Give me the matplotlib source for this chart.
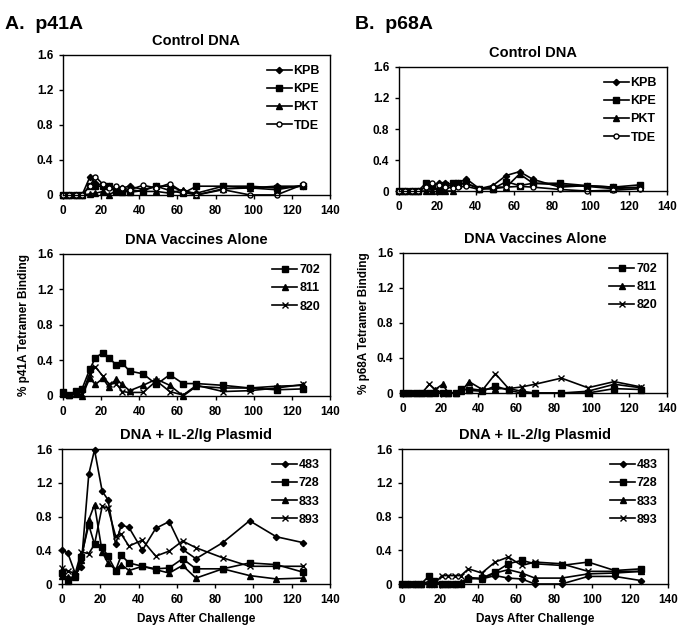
import matplotlib
matplotlib.use("Agg")
import matplotlib.pyplot as plt
from matplotlib.ticker import FuncFormatter

plt.rcParams['font.family'] = ['Liberation Sans', 'DejaVu Sans']
plt.rcParams['font.weight'] = 'bold'

days = [0, 3, 7, 10, 14, 17, 21, 24, 28, 31, 35, 42, 49, 56, 63, 70, 84, 98, 112, 126]

# p41A
a_ctrl = {
    "KPB": [0, 0, 0, 0, 0.20, 0.14, 0.10, 0.10, 0.06, 0.08, 0.10, 0.06, 0.10, 0.10, 0.04, 0.02, 0.10, 0.08, 0.10, 0.10],
    "KPE": [0, 0, 0, 0, 0.10, 0.10, 0.10, 0.10, 0.04, 0.05, 0.03, 0.05, 0.10, 0.05, 0.02, 0.10, 0.10, 0.10, 0.08, 0.10],
    "PKT": [0, 0, 0, 0, 0.01, 0.02, 0.04, 0.0, 0.05, 0.03, 0.06, 0.04, 0.04, 0.02, 0.06, 0.0, 0.07, 0.08, 0.06, 0.11],
    "TDE": [0, 0, 0, 0, 0.10, 0.21, 0.12, 0.08, 0.10, 0.08, 0.06, 0.11, 0.08, 0.13, 0.03, 0.0, 0.06, 0.0, 0.0, 0.12],
}
a_vacc = {
    "702": [0.04, 0.01, 0.06, 0.08, 0.30, 0.43, 0.49, 0.43, 0.35, 0.37, 0.28, 0.25, 0.13, 0.24, 0.14, 0.14, 0.12, 0.09, 0.07, 0.08],
    "811": [0.02, 0.01, 0.02, 0.0, 0.20, 0.13, 0.20, 0.10, 0.19, 0.13, 0.06, 0.12, 0.19, 0.12, 0.0, 0.11, 0.09, 0.09, 0.11, 0.12],
    "820": [0.02, 0.01, 0.02, 0.02, 0.25, 0.33, 0.22, 0.14, 0.14, 0.05, 0.04, 0.04, 0.17, 0.05, 0.01, 0.12, 0.05, 0.06, 0.09, 0.13],
}
a_il2 = {
    "483": [0.40, 0.37, 0.12, 0.20, 1.30, 1.59, 1.10, 1.00, 0.47, 0.70, 0.67, 0.40, 0.66, 0.74, 0.41, 0.30, 0.49, 0.75, 0.56, 0.49],
    "728": [0.13, 0.03, 0.09, 0.32, 0.70, 0.47, 0.44, 0.33, 0.16, 0.34, 0.25, 0.21, 0.18, 0.19, 0.30, 0.18, 0.18, 0.25, 0.23, 0.14],
    "833": [0.10, 0.08, 0.08, 0.28, 0.76, 0.94, 0.38, 0.25, 0.17, 0.23, 0.16, 0.21, 0.17, 0.13, 0.22, 0.07, 0.18, 0.10, 0.06, 0.07],
    "893": [0.19, 0.15, 0.13, 0.38, 0.36, 0.47, 0.92, 0.90, 0.57, 0.59, 0.45, 0.52, 0.33, 0.39, 0.51, 0.43, 0.31, 0.21, 0.21, 0.21],
}

# p68A
b_ctrl = {
    "KPB": [0, 0, 0, 0, 0.05, 0.08, 0.10, 0.10, 0.05, 0.10, 0.16, 0.03, 0.07, 0.20, 0.25, 0.15, 0.05, 0.07, 0.05, 0.04],
    "KPE": [0, 0, 0, 0, 0.10, 0.07, 0.0, 0.08, 0.10, 0.10, 0.10, 0.03, 0.03, 0.12, 0.07, 0.10, 0.10, 0.07, 0.05, 0.08],
    "PKT": [0, 0, 0, 0, 0, 0, 0.05, 0.0, 0.0, 0.08, 0.10, 0.03, 0.03, 0.05, 0.22, 0.10, 0.08, 0.06, 0.03, 0.05],
    "TDE": [0, 0, 0, 0, 0.05, 0.10, 0.08, 0.05, 0.04, 0.05, 0.06, 0.02, 0.05, 0.05, 0.06, 0.05, 0.02, 0.0, 0.01, 0.03],
}
b_vacc = {
    "702": [0, 0, 0, 0, 0, 0, 0, 0, 0, 0.05, 0.03, 0.02, 0.08, 0.03, 0.0, 0.0, 0.0, 0.0, 0.05, 0.04],
    "811": [0, 0, 0, 0, 0, 0.04, 0.10, 0.0, 0.0, 0.02, 0.13, 0.04, 0.05, 0.05, 0.02, 0.0, 0.0, 0.02, 0.10, 0.06],
    "820": [0, 0, 0, 0, 0.10, 0.04, 0.0, 0.0, 0.0, 0.03, 0.05, 0.03, 0.22, 0.05, 0.07, 0.10, 0.17, 0.06, 0.13, 0.07],
}
b_il2 = {
    "483": [0, 0, 0, 0, 0, 0, 0, 0, 0, 0, 0.08, 0.06, 0.10, 0.07, 0.06, 0.0, 0.0, 0.09, 0.09, 0.04],
    "728": [0, 0, 0, 0, 0.09, 0.04, 0, 0, 0, 0, 0.06, 0.07, 0.14, 0.24, 0.28, 0.24, 0.22, 0.26, 0.16, 0.18],
    "833": [0, 0, 0, 0, 0, 0, 0, 0, 0, 0.02, 0.07, 0.06, 0.13, 0.17, 0.13, 0.07, 0.07, 0.12, 0.13, 0.15],
    "893": [0, 0, 0, 0, 0.03, 0, 0.10, 0.10, 0.10, 0.10, 0.18, 0.13, 0.26, 0.32, 0.22, 0.26, 0.24, 0.15, 0.15, 0.15],
}

styles = {
    "KPB": ("D", 3.2, "black"),
    "KPE": ("s", 3.8, "black"),
    "PKT": ("^", 4.2, "black"),
    "TDE": ("o", 3.6, "white"),
    "702": ("s", 3.8, "black"),
    "811": ("^", 4.2, "black"),
    "820": ("x", 4.8, "black"),
    "483": ("D", 3.2, "black"),
    "728": ("s", 3.8, "black"),
    "833": ("^", 4.2, "black"),
    "893": ("x", 4.8, "black"),
}

fig = plt.figure(figsize=(6.81, 6.35), dpi=100)

panels = [
    ([0.0925, 0.693, 0.392, 0.2205], a_ctrl, "Control DNA", None, False),
    ([0.0925, 0.3764, 0.392, 0.2236], a_vacc, "DNA Vaccines Alone", "% p41A Tetramer Binding", False),
    ([0.091, 0.0803, 0.3935, 0.2126], a_il2, "DNA + IL-2/Ig Plasmid", None, True),
    ([0.5859, 0.6992, 0.3935, 0.1953], b_ctrl, "Control DNA", None, False),
    ([0.5918, 0.3811, 0.3877, 0.2205], b_vacc, "DNA Vaccines Alone", "% p68A Tetramer Binding", False),
    ([0.5903, 0.0803, 0.3905, 0.2126], b_il2, "DNA + IL-2/Ig Plasmid", None, True),
]

for rect, series, title, ylab, xlab in panels:
    ax = fig.add_axes(rect)
    for name, vals in series.items():
        mk, ms, fc = styles[name]
        ax.plot(days, vals, color="black", lw=1.2, marker=mk, ms=ms,
                mfc=fc, mec="black", mew=1.0, label=name, clip_on=False)
    ax.set_xlim(0, 140)
    ax.set_ylim(0, 1.6)
    ax.set_xticks(range(0, 141, 20))
    ax.set_yticks([0, 0.4, 0.8, 1.2, 1.6])
    ax.yaxis.set_major_formatter(FuncFormatter(lambda v, p: "0" if v == 0 else f"{v:.1f}"))
    ax.tick_params(labelsize=8.5, direction="out", length=3, width=1, pad=4)
    for lbl in ax.get_xticklabels() + ax.get_yticklabels():
        lbl.set_fontweight("bold")
    for sp in ax.spines.values():
        sp.set_linewidth(1.0)
    ax.set_title(title, fontsize=10.5, fontweight="bold", pad=7)
    if ylab:
        ax.set_ylabel(ylab, fontsize=8.5, fontweight="bold", labelpad=5)
    if xlab:
        ax.set_xlabel("Days After Challenge", fontsize=8.5, fontweight="bold", labelpad=5)
    ax.legend(loc="upper right", frameon=False, handlelength=2.0,
              handletextpad=0.15, labelspacing=0.5, borderaxespad=0.4,
              prop=dict(weight="bold", size=9))

fig.text(0.008, 0.975, "A.  p41A", fontsize=14, fontweight="bold", va="top")
fig.text(0.521, 0.975, "B.  p68A", fontsize=14, fontweight="bold", va="top")

fig.savefig("out.png", dpi=100)
